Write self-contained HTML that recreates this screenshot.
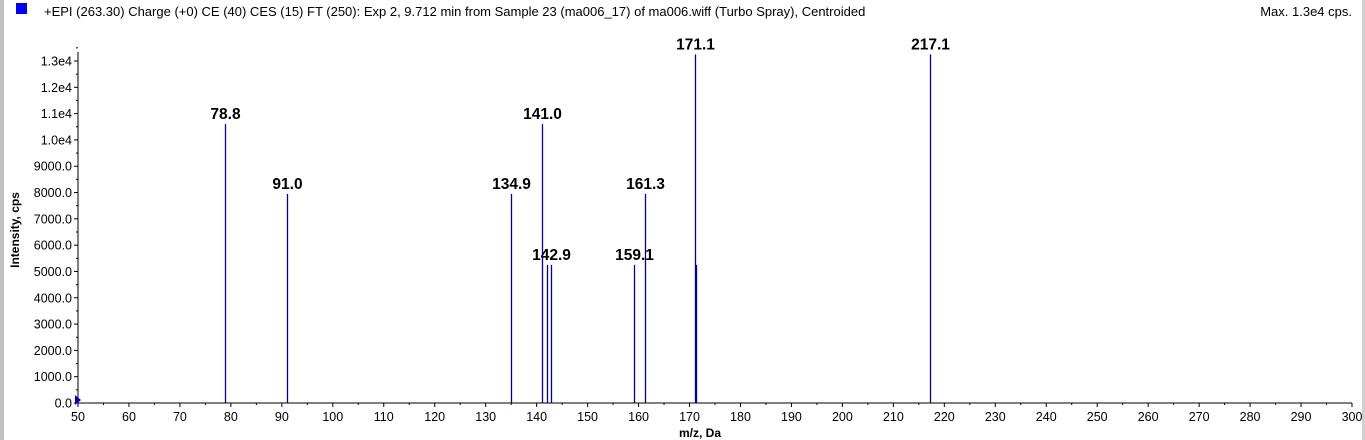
<!DOCTYPE html>
<html><head><meta charset="utf-8"><style>
body{margin:0;width:1365px;height:440px;background:#fff;overflow:hidden;font-family:"Liberation Sans",Arial,sans-serif}
</style></head><body>
<svg id="chart" width="1365" height="440" style="position:absolute;left:0;top:0">
<rect x="0" y="0" width="4" height="440" fill="#c0c0c0"/>
<rect x="1362" y="0" width="3" height="440" fill="#d0d0d0"/>
<rect x="16" y="3" width="11" height="11" fill="#0000ff"/>
<text x="44" y="16" font-size="13" fill="#000">+EPI (263.30) Charge (+0) CE (40) CES (15) FT (250): Exp 2, 9.712 min from Sample 23 (ma006_17) of ma006.wiff (Turbo Spray), Centroided</text>
<text x="1352" y="16" font-size="13" text-anchor="end">Max. 1.3e4 cps.</text>
<g id="axes"></g><g id="marks"></g>
<text x="700" y="437" font-size="12" font-weight="bold" text-anchor="middle">m/z, Da</text>
<text transform="translate(19,230) rotate(-90)" font-size="12" font-weight="bold" text-anchor="middle">Intensity, cps</text>
</svg>
<script>
const mz = [78.8, 91.0, 134.9, 141.0, 142.0, 142.9, 159.1, 161.3, 171.1, 171.3, 217.1];
const intensity = [10600, 7950, 7950, 10600, 5250, 5250, 5250, 7950, 13250, 5250, 13250];
const peakLabels = ["78.8","91.0","134.9","141.0","","142.9","159.1","161.3","171.1","","217.1"];
const xTicks = [50,60,70,80,90,100,110,120,130,140,150,160,170,180,190,200,210,220,230,240,250,260,270,280,290,300];
const yTicks = [0,1000,2000,3000,4000,5000,6000,7000,8000,9000,10000,11000,12000,13000];
const yTickLabels = ["0.0","1000.0","2000.0","3000.0","4000.0","5000.0","6000.0","7000.0","8000.0","9000.0","1.0e4","1.1e4","1.2e4","1.3e4"];
const X0=78,X1=1352,Y0=403,YT=61;
const xs=v=>X0+(v-50)*(X1-X0)/250;
const ys=v=>Y0-v*(Y0-YT)/13000;
const NS="http://www.w3.org/2000/svg";
function mk(tag,attrs,parent){const e=document.createElementNS(NS,tag);for(const k in attrs)e.setAttribute(k,attrs[k]);parent.appendChild(e);return e;}
const ax=document.getElementById('axes'), mg=document.getElementById('marks');
let l=mk('line',{x1:X0,y1:52,x2:X0,y2:Y0,stroke:'#000'},ax);


l=mk('line',{x1:X0,y1:Y0,x2:X1,y2:Y0,stroke:'#000'},ax);


xTicks.forEach((t,i)=>{const x=xs(t);
 mk('line',{x1:x,y1:Y0,x2:x,y2:Y0+4,stroke:'#000'},ax);
 if(i<xTicks.length-1)mk('line',{x1:x+(xs(t+10)-x)/2,y1:Y0,x2:x+(xs(t+10)-x)/2,y2:Y0+2,stroke:'#000'},ax);
 const tx=mk('text',{x:x,y:Y0+18,'font-size':12.5,'text-anchor':'middle'},ax);tx.textContent=t;
 
 
});
yTicks.forEach((t,i)=>{const y=ys(t);
 mk('line',{x1:X0-4,y1:y,x2:X0,y2:y,stroke:'#000'},ax);
 mk('line',{x1:X0-2,y1:y-13.15,x2:X0,y2:y-13.15,stroke:'#000'},ax);
 const tx=mk('text',{x:X0-6,y:y+4.5,'font-size':12.5,'text-anchor':'end'},ax);tx.textContent=yTickLabels[i];
 
 
});
const tri=mk('polygon',{points:`${X0-3},${Y0-8} ${X0+3},${Y0-3} ${X0-3},${Y0+2}`,fill:'#0000cc'},ax);


mz.forEach((m,i)=>{const x=Math.round(xs(m))+0.5;
 const b=mk('line',{x1:x,y1:Y0,x2:x,y2:ys(intensity[i]),stroke:'#0000a0','stroke-width':1.3},mg);
 
 
 if(peakLabels[i]){const t=mk('text',{x:x,y:ys(intensity[i])-5,'font-size':15.5,'font-weight':'bold','text-anchor':'middle'},mg);t.textContent=peakLabels[i];
  
  }
});
</script>
</body></html>
